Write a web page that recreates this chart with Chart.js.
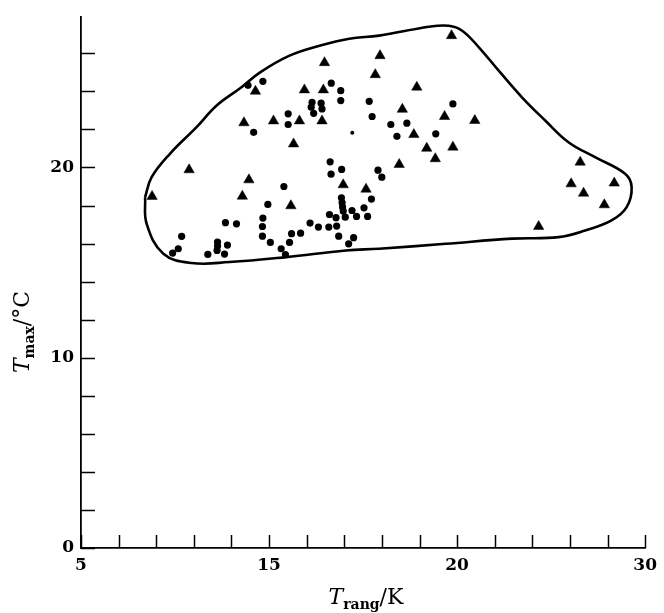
<!DOCTYPE html>
<html>
<head>
<meta charset="utf-8">
<script src="https://cdn.jsdelivr.net/npm/chart.js@4"></script>
<style>
  html, body { margin: 0; padding: 0; background: #fff; }
  #wrap { width: 664px; height: 613px; position: relative; }
</style>
</head>
<body>
<div id="wrap"><canvas id="tChart"></canvas></div>
<script>
// puntos (circulos)
const circleX = [12.40, 13.06, 16.09, 16.51, 16.51, 15.24, 15.64, 15.20, 15.68, 15.31,
  17.77, 17.90, 18.73, 19.44, 19.00, 14.18, 14.18, 12.65, 16.04, 16.55,
  16.08, 18.16, 18.33, 13.99, 13.28, 16.54, 16.57, 16.59, 16.62, 17.87,
  17.54, 17.01, 17.21, 17.70, 16.71, 16.01, 16.30, 16.33, 15.98, 15.52,
  15.15, 14.73, 14.33, 14.24, 13.87, 14.06, 13.39, 13.04, 13.04, 13.06,
  16.42, 17.08, 16.86, 11.40, 11.89, 9.46, 9.31, 9.06, 11.05, 11.05,
  11.03, 11.49, 10.62, 11.36, 21.48, 20.72];
const circleY = [24.32, 24.53, 24.43, 24.04, 23.52, 23.43, 23.38, 23.17, 23.08, 22.85,
  23.48, 22.68, 22.26, 22.33, 21.64, 22.82, 22.26, 21.85, 20.30, 19.90,
  19.65, 19.86, 19.49, 19.00, 18.06, 18.41, 18.15, 17.92, 17.71, 18.34,
  17.88, 17.74, 17.43, 17.43, 17.39, 17.53, 17.36, 16.92, 16.87, 16.87,
  17.08, 16.55, 16.52, 16.06, 15.73, 15.42, 16.06, 16.39, 16.90, 17.34,
  16.39, 16.31, 15.99, 17.10, 17.04, 16.38, 15.73, 15.50, 16.08, 15.87,
  15.64, 15.92, 15.43, 15.45, 23.34, 21.77];

// punto pequeño
const dotX = [17.02];
const dotY = [21.82];

// triangulos
const triX = [12.73, 14.90, 15.74, 19.24, 12.22, 13.53, 14.68, 15.68, 14.42, 19.10,
  9.79, 12.44, 8.15, 12.15, 16.62, 17.63, 14.30, 21.42, 18.25, 19.88,
  21.11, 22.45, 19.75, 20.32, 21.48, 20.70, 27.12, 26.72, 28.63, 27.27,
  28.19, 25.28, 15.79, 18.04];
const triY = [24.01, 24.08, 24.08, 23.06, 22.35, 22.45, 22.45, 22.45, 21.24, 20.16,
  19.88, 19.35, 18.48, 18.49, 19.09, 18.86, 17.99, 26.93, 25.88, 24.22,
  22.68, 22.47, 21.73, 21.01, 21.07, 20.46, 20.28, 19.14, 19.18, 18.65,
  18.04, 16.90, 25.51, 24.88];

// contorno
const hullX = [7.84, 8.13, 8.94, 10.12, 11.00, 12.11, 12.92, 14.24, 15.57, 16.89,
  18.21, 20.42, 21.30, 21.89, 22.63, 23.51, 24.54, 25.57, 26.60, 27.78,
  29.11, 29.40, 29.18, 28.51, 27.34, 26.16, 24.10, 21.16, 18.21, 16.74,
  14.09, 11.59, 9.90, 8.65, 7.91, 7.84];
const hullY = [18.44, 19.49, 20.72, 22.12, 23.25, 24.22, 24.99, 25.88, 26.40, 26.77,
  26.93, 27.40, 27.45, 27.19, 26.32, 25.09, 23.69, 22.47, 21.33, 20.54,
  19.67, 18.97, 17.92, 17.22, 16.69, 16.34, 16.26, 15.99, 15.73, 15.64,
  15.29, 15.03, 14.98, 15.47, 17.04, 18.44];

// ejes
const xTickLabels = ['5', '15', '20', '30'];
const yTickLabels = [0, 10, 20];

const toPts = (xs, ys) => xs.map((x, i) => ({ x: x, y: ys[i] }));

const serif = '"DejaVu Serif", "Liberation Serif", serif';

// marcas hacia dentro
const innerTicks = {
  id: 'innerTicks',
  afterDraw(chart) {
    const { ctx, chartArea, scales } = chart;
    ctx.save();
    ctx.strokeStyle = '#000';
    ctx.lineWidth = 1.5;
    scales.y.ticks.forEach(t => {
      const py = Math.round(scales.y.getPixelForValue(t.value)) + 0.5;
      ctx.beginPath();
      ctx.moveTo(chartArea.left, py);
      ctx.lineTo(chartArea.left + 14, py);
      ctx.stroke();
    });
    scales.x.ticks.forEach(t => {
      const px = Math.round(scales.x.getPixelForValue(t.value)) + 0.5;
      ctx.beginPath();
      ctx.moveTo(px, chartArea.bottom);
      ctx.lineTo(px, chartArea.bottom - 13);
      ctx.stroke();
    });
    ctx.restore();
  }
};

// titulos con subindice
function drawTitle(ctx, parts) {
  let w = 0;
  parts.forEach(p => { ctx.font = p.font; w += ctx.measureText(p.t).width; });
  let cx = -w / 2;
  parts.forEach(p => {
    ctx.font = p.font;
    ctx.fillText(p.t, cx, p.dy || 0);
    cx += ctx.measureText(p.t).width;
  });
}

const axisTitles = {
  id: 'axisTitles',
  afterDraw(chart) {
    const ctx = chart.ctx;
    ctx.save();
    ctx.fillStyle = '#000';
    ctx.textBaseline = 'alphabetic';
    ctx.textAlign = 'left';
    ctx.translate(366, 604);
    drawTitle(ctx, [
      { t: 'T', font: 'italic 22px ' + serif },
      { t: 'rang', font: 'bold 14px ' + serif, dy: 5 },
      { t: '/K', font: '22px ' + serif }
    ]);
    ctx.restore();

    ctx.save();
    ctx.fillStyle = '#000';
    ctx.textBaseline = 'alphabetic';
    ctx.textAlign = 'left';
    ctx.translate(29, 332);
    ctx.rotate(-Math.PI / 2);
    drawTitle(ctx, [
      { t: 'T', font: 'italic 22px ' + serif },
      { t: 'max', font: 'bold 14px ' + serif, dy: 5 },
      { t: '/°C', font: '22px ' + serif }
    ]);
    ctx.restore();
  }
};

const ctx = document.getElementById('tChart').getContext('2d');

const myChart = new Chart(ctx, {
  type: 'scatter',
  data: {
    datasets: [
      {
        label: 'contorno',
        data: toPts(hullX, hullY),
        showLine: true,
        borderColor: '#000',
        borderWidth: 2.6,
        pointRadius: 0,
        tension: 0.4,
        fill: false
      },
      {
        label: 'circulos',
        data: toPts(circleX, circleY),
        pointStyle: 'circle',
        pointRadius: 3.6,
        backgroundColor: '#000',
        borderWidth: 0
      },
      {
        label: 'punto',
        data: toPts(dotX, dotY),
        pointStyle: 'circle',
        pointRadius: 2,
        backgroundColor: '#000',
        borderWidth: 0
      },
      {
        label: 'triangulos',
        data: toPts(triX, triY),
        pointStyle: 'triangle',
        pointRadius: 6,
        backgroundColor: '#000',
        borderColor: '#000',
        borderWidth: 0.5
      }
    ]
  },
  options: {
    responsive: true,
    maintainAspectRatio: false,
    animation: false,
    layout: { padding: { left: 0, right: 17, top: 16, bottom: 0 } },
    plugins: {
      legend: { display: false },
      tooltip: { enabled: false }
    },
    scales: {
      x: {
        type: 'linear',
        min: 5,
        max: 30,
        afterFit: s => { s.height = 65; },
        afterBuildTicks: s => {
          const t = [];
          for (let k = 0; k <= 15; k++) t.push({ value: 5 + k * 25 / 15 });
          s.ticks = t;
        },
        grid: { display: false, drawTicks: false },
        border: { display: true, color: '#000', width: 1.8 },
        ticks: {
          autoSkip: false,
          maxRotation: 0,
          padding: 7,
          color: '#000',
          font: { family: serif, size: 17, weight: 'bold' },
          callback: (v, i) => (i % 5 === 0 ? xTickLabels[i / 5] : '')
        }
      },
      y: {
        min: 0,
        max: 27.9,
        afterFit: s => { s.width = 81; },
        grid: { display: false, drawTicks: false },
        border: { display: true, color: '#000', width: 1.8 },
        ticks: {
          stepSize: 2,
          includeBounds: false,
          autoSkip: false,
          padding: 7,
          color: '#000',
          font: { family: serif, size: 17, weight: 'bold' },
          callback: v => (yTickLabels.includes(v) ? String(v) : '')
        }
      }
    }
  },
  plugins: [innerTicks, axisTitles]
});
</script>
</body>
</html>
